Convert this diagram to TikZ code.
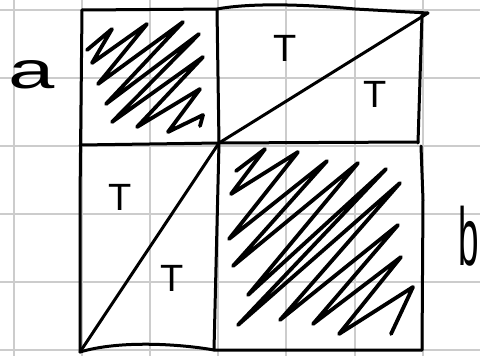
\documentclass[tikz,border=0pt]{standalone}
\usepackage{fontspec}
\setmainfont{Liberation Sans}
\begin{document}
\begin{tikzpicture}[x=1pt,y=-1pt,
  gridline/.style={draw=black!20, line width=1.6pt},
  pen/.style={draw=black, line width=3pt, line cap=round, line join=round},
  scribble/.style={draw=black, line width=3.8pt, line cap=round, line join=round},
  tlabel/.style={font=\fontsize{38}{38}\selectfont, inner sep=0pt},
  sidea/.style={font=\fontsize{52}{52}\selectfont, inner sep=0pt, xscale=1.6},
  sideb/.style={font=\fontsize{82}{82}\selectfont, inner sep=0pt, xscale=0.45}]
\useasboundingbox (0,0) rectangle (480,356);
\fill[white] (0,0) rectangle (480,356);
% grid paper
\foreach \gx in {14,82,150,218,286,355,423} \draw[gridline] (\gx,0) -- (\gx,356);
\foreach \gy in {10,78,146,214,282,350} \draw[gridline] (0,\gy) -- (480,\gy);
% corners
\coordinate (tl) at (82,10);
\coordinate (tr) at (428,13);
\coordinate (bl) at (80,352);
\coordinate (br) at (422,350);
\coordinate (c)  at (219,143);
% outer frame
\draw[pen] (tl) -- (217,9) .. controls (250,3) and (300,4) .. (355,9) -- (tr);
\draw[pen] (tl) -- (80,200) -- (bl);
\draw[pen] (bl) .. controls (120,340) and (180,344) .. (214,350) -- (br);
\draw[pen] (422,15) -- (418,143);
\draw[pen] (421,146) -- (423,200) -- (br);
% middle lines
\draw[pen] (80,145) -- (c) -- (418,142);
\draw[pen] (217,10) -- (c) -- (214,350);
% diagonals
\draw[pen] (c) -- (tr);
\draw[pen] (bl) -- (c);
% scribbles
\draw[scribble] (87,50) -- (112,29) -- (92,63) -- (147,24) -- (98,84) -- (183,22)
  -- (106,104) -- (199,34) -- (112,122) -- (203,57) -- (137,127) -- (200,89)
  -- (168,132) -- (203,115) -- (200,126);
\draw[scribble] (236,171) -- (265,149) -- (231,194) -- (298,152) -- (229,239)
  -- (327,161) -- (233,266) -- (358,163) -- (248,295) -- (386,169) -- (238,325)
  -- (400,183) -- (280,320) -- (398,225) -- (313,324) -- (401,257) -- (339,334)
  -- (413,287) -- (391,334);
% labels
\node[tlabel] (t1) at (285,48) {T};
\node[tlabel] (t2) at (375,94) {T};
\node[tlabel] (t3) at (120,197) {T};
\node[tlabel] (t4) at (172,278) {T};
\node[sidea] (la) at (32,75) {a};
\node[sideb] (lb) at (469,236) {b};
\end{tikzpicture}
\end{document}
